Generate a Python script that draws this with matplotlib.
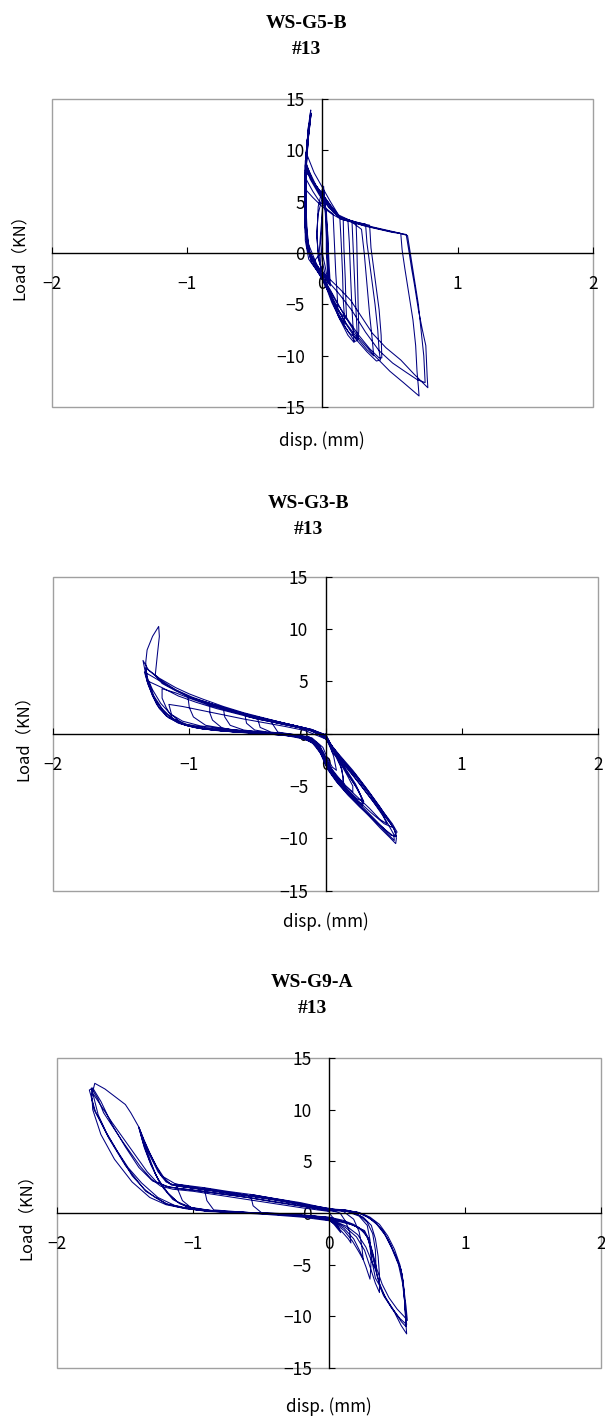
import matplotlib
matplotlib.use("Agg")
import matplotlib.pyplot as plt
from matplotlib.patches import Rectangle

# ---------------------------------------------------------------- data
# Cyclic load tests, recorded in sequence: (displacement mm, load kN).

G5B_POINTS = [
    (0.00, 0.0), (0.02, -1.2), (0.04, -2.6), (0.02, -2.0), (0.00, -0.8), (-0.01, 1.0),
    (0.00, 3.5), (0.01, 6.5), (0.02, 4.5), (0.03, 2.0), (0.04, -1.0), (0.05, -3.0),
    (0.03, -2.5), (0.01, -2.0), (-0.02, -1.0), (-0.04, 1.5), (-0.03, 4.5), (0.00, 6.2),
    (0.02, 4.8), (0.04, 2.0), (0.05, -1.0), (0.06, -3.2), (0.03, -2.6), (0.00, -1.8),
    (-0.03, -0.5), (-0.04, 2.0), (-0.03, 3.8), (0.00, 5.4), (0.03, 4.2), (0.04, 1.5),
    (0.045, -1.5), (0.05, -2.8), (0.02, -2.4), (-0.01, -1.6),
    (-0.02, 0.5), (0.00, 4.0), (0.01, 6.0), (0.03, 3.0), (0.03, 0.0), (0.04, -2.0),
    (0.035, -3.2), (0.01, -2.7),
    (-0.06, -0.5), (-0.10, 0.8), (-0.12, 3.0), (-0.125, 6.0), (-0.12, 8.5), (-0.115, 10.2),
    (-0.12, 8.8), (-0.08, 7.3), (-0.03, 6.0), (0.03, 4.8), (0.08, 4.0), (0.13, 3.4),
    (0.14, 1.0), (0.15, -2.0), (0.155, -4.5), (0.165, -6.5), (0.17, -6.9), (0.12, -6.0),
    (0.07, -4.5), (0.03, -3.2), (0.00, -2.3),
    (-0.05, -1.2), (-0.09, 0.0), (-0.11, 1.5), (-0.12, 4.5), (-0.12, 7.2), (-0.07, 6.0),
    (-0.02, 5.0), (0.04, 4.2), (0.08, 3.8), (0.09, 1.0), (0.10, -2.0), (0.11, -4.0),
    (0.115, -5.3), (0.08, -4.6), (0.04, -3.5), (0.01, -2.6),
    (-0.05, -1.0), (-0.10, 0.3), (-0.125, 2.5), (-0.13, 6.5), (-0.125, 9.0), (-0.09, 7.2),
    (-0.02, 5.6), (0.05, 4.4), (0.12, 3.5), (0.155, 3.2), (0.16, 0.5), (0.17, -2.5),
    (0.175, -5.0), (0.18, -6.4), (0.13, -5.8), (0.08, -4.6), (0.03, -3.0), (0.00, -2.2),
    (-0.05, -1.2), (-0.10, 0.2), (-0.125, 3.0), (-0.125, 7.5), (-0.11, 10.5), (-0.10, 12.2),
    (-0.115, 10.0), (-0.125, 8.2), (-0.06, 6.8), (0.02, 5.4), (0.08, 4.2), (0.13, 3.5),
    (0.22, 3.0), (0.225, 1.5), (0.235, -1.5), (0.245, -4.5), (0.255, -7.0), (0.26, -8.5),
    (0.24, -8.6), (0.17, -7.2), (0.10, -5.4), (0.05, -3.8), (0.01, -2.6),
    (-0.04, -1.5), (-0.09, -0.2), (-0.12, 2.0), (-0.13, 6.0), (-0.12, 9.5), (-0.10, 12.6),
    (-0.12, 9.5), (-0.12, 8.0), (-0.05, 6.5), (0.03, 5.1), (0.10, 3.9), (0.14, 3.4),
    (0.25, 2.9), (0.255, 1.0), (0.26, -2.0), (0.265, -5.0), (0.27, -7.5), (0.265, -8.4),
    (0.20, -7.8), (0.13, -6.4), (0.07, -4.8), (0.02, -3.0),
    (-0.03, -1.9), (-0.08, -0.9), (-0.115, 0.8), (-0.125, 4.0), (-0.125, 6.2), (-0.07, 5.4),
    (0.00, 4.5), (0.07, 3.8), (0.13, 3.35), (0.19, 3.1), (0.20, 1.0), (0.21, -2.5),
    (0.22, -5.5), (0.23, -7.8), (0.235, -8.7), (0.19, -8.0), (0.12, -6.2), (0.06, -4.2),
    (0.01, -2.8),
    (-0.04, -1.6), (-0.09, -0.4), (-0.12, 1.5), (-0.125, 6.0), (-0.11, 11.0), (-0.09, 13.0),
    (-0.11, 10.8), (-0.125, 8.4), (-0.07, 7.0), (0.00, 5.7), (0.07, 4.4), (0.13, 3.5),
    (0.25, 3.0), (0.32, 2.8), (0.33, 1.0), (0.36, -2.0), (0.39, -5.0), (0.41, -7.5),
    (0.42, -9.5), (0.43, -10.4), (0.40, -10.5), (0.33, -9.6), (0.25, -8.4), (0.17, -6.8),
    (0.10, -5.0), (0.04, -3.4), (0.00, -2.4),
    (-0.04, -1.4), (-0.09, -0.2), (-0.12, 1.8), (-0.125, 7.0), (-0.10, 11.8), (-0.085, 13.5),
    (-0.11, 11.0), (-0.125, 8.0), (-0.05, 6.6), (0.03, 5.2), (0.10, 4.0), (0.14, 3.4),
    (0.28, 2.9), (0.35, 2.7), (0.36, 0.5), (0.39, -2.5), (0.42, -5.5), (0.435, -8.0),
    (0.44, -10.2), (0.42, -10.2), (0.35, -9.3), (0.27, -8.0), (0.19, -6.5), (0.11, -4.9),
    (0.05, -3.5), (0.00, -2.5),
    (-0.04, -1.7), (-0.10, -0.6), (-0.125, 1.2), (-0.13, 5.5), (-0.12, 9.8), (-0.06, 7.8),
    (0.00, 6.4), (0.06, 5.0), (0.12, 3.7), (0.20, 3.2), (0.29, 2.3), (0.31, 0.0),
    (0.33, -3.0), (0.35, -6.0), (0.37, -8.5), (0.38, -10.0), (0.33, -9.4), (0.26, -8.3),
    (0.18, -6.9), (0.11, -5.4), (0.05, -3.9), (0.00, -2.6),
    (-0.04, -1.3), (-0.10, 0.0), (-0.125, 2.0), (-0.125, 7.5), (-0.10, 12.5), (-0.085, 13.9),
    (-0.10, 12.0), (-0.125, 8.5), (-0.06, 6.8), (0.02, 5.3), (0.08, 4.2), (0.13, 3.4),
    (0.30, 2.7), (0.50, 2.1), (0.62, 1.8), (0.64, 0.2), (0.66, -1.5), (0.68, -3.0),
    (0.71, -5.5), (0.74, -7.5), (0.765, -9.0), (0.77, -10.5), (0.775, -12.0), (0.78, -13.1),
    (0.68, -11.8), (0.58, -10.4), (0.47, -9.2), (0.37, -7.8), (0.28, -6.0), (0.21, -4.6),
    (0.13, -3.5), (0.06, -2.6), (0.01, -2.0),
    (-0.05, -1.0), (-0.11, 0.4), (-0.13, 3.0), (-0.125, 8.0), (-0.10, 11.5), (-0.09, 12.6),
    (-0.11, 10.5), (-0.12, 8.6), (-0.04, 6.4), (0.04, 4.9), (0.10, 3.8), (0.15, 3.3),
    (0.35, 2.6), (0.55, 2.0), (0.63, 1.7), (0.65, 0.0), (0.68, -2.5), (0.71, -5.0),
    (0.73, -7.5), (0.75, -10.0), (0.76, -12.6), (0.70, -12.3), (0.62, -11.6), (0.52, -10.7),
    (0.42, -9.5), (0.32, -7.7), (0.22, -5.6), (0.12, -3.9), (0.04, -2.7), (0.00, -2.1),
    (-0.04, -1.2), (-0.10, 0.2), (-0.12, 2.5), (-0.12, 8.0), (-0.095, 12.5), (-0.08, 13.6),
    (-0.11, 11.0), (-0.125, 8.3), (-0.05, 6.5), (0.03, 5.0), (0.09, 4.0), (0.14, 3.3),
    (0.32, 2.6), (0.52, 2.0), (0.58, 1.9), (0.59, 0.3), (0.61, -1.5), (0.64, -4.0),
    (0.67, -6.5), (0.69, -9.0), (0.70, -11.5), (0.71, -13.0), (0.715, -13.9), (0.60, -12.6),
    (0.50, -11.5), (0.38, -9.9), (0.26, -8.1), (0.16, -6.0), (0.06, -3.6), (0.01, -2.5),
    (-0.02, -1.8), (-0.06, -0.8), (-0.03, -0.3), (0.00, 0.0),
]

G3B_POINTS = [
    (0.00, 0.0), (0.03, -0.8), (0.07, -1.8), (0.11, -3.0), (0.13, -4.2), (0.125, -4.9),
    (0.09, -4.3), (0.05, -3.5), (0.01, -2.5), (-0.05, -1.0), (-0.12, -0.3), (-0.25, -0.05),
    (-0.35, 0.15), (-0.40, 1.15), (-0.33, 0.95), (-0.20, 0.6), (-0.10, 0.3), (0.00, -0.3),
    (0.03, -1.0), (0.06, -2.2), (0.08, -3.5), (0.05, -3.2), (0.02, -2.5), (-0.02, -1.3),
    (-0.10, -0.4), (-0.25, -0.05), (-0.40, 0.15), (-0.48, 0.6), (-0.50, 1.5), (-0.38, 1.15),
    (-0.25, 0.8), (-0.12, 0.4), (0.00, -0.2),
    (0.04, -1.2), (0.08, -2.3), (0.12, -3.4), (0.135, -4.9), (0.10, -4.5), (0.05, -3.6),
    (0.01, -2.6), (-0.04, -1.2), (-0.12, -0.4), (-0.25, -0.1), (-0.40, 0.1), (-0.52, 0.35),
    (-0.58, 1.0), (-0.59, 1.7), (-0.50, 1.4), (-0.38, 1.1), (-0.25, 0.75), (-0.12, 0.35),
    (0.00, -0.4),
    (0.05, -1.4), (0.10, -2.6), (0.16, -3.8), (0.22, -5.0), (0.26, -6.0), (0.27, -6.8),
    (0.22, -6.3), (0.16, -5.5), (0.10, -4.6), (0.04, -3.6), (0.00, -2.6), (-0.05, -1.3),
    (-0.12, -0.5), (-0.25, -0.15), (-0.45, 0.1), (-0.60, 0.35), (-0.70, 0.8), (-0.74, 1.6),
    (-0.75, 2.4), (-0.65, 2.0), (-0.50, 1.55), (-0.35, 1.1), (-0.20, 0.65), (-0.08, 0.2),
    (0.00, -0.5),
    (0.05, -1.4), (0.10, -2.6), (0.16, -4.0), (0.20, -5.0), (0.20, -5.6), (0.15, -5.0),
    (0.09, -4.1), (0.03, -3.1), (-0.02, -1.7), (-0.10, -0.6), (-0.25, -0.15), (-0.45, 0.05),
    (-0.62, 0.25), (-0.76, 0.55), (-0.83, 1.3), (-0.85, 2.0), (-0.85, 2.8), (-0.72, 2.3),
    (-0.58, 1.8), (-0.43, 1.35), (-0.28, 0.9), (-0.13, 0.45), (0.00, -0.3),
    (0.06, -1.6), (0.12, -2.9), (0.18, -4.2), (0.24, -5.4), (0.28, -6.5), (0.27, -6.9),
    (0.21, -6.2), (0.14, -5.3), (0.08, -4.4), (0.03, -3.5), (-0.01, -2.4), (-0.06, -1.2),
    (-0.15, -0.4), (-0.30, -0.05), (-0.50, 0.15), (-0.70, 0.4), (-0.88, 0.8), (-0.97, 1.6),
    (-1.00, 2.5), (-1.01, 3.5), (-0.90, 3.1), (-0.75, 2.5), (-0.60, 1.9), (-0.45, 1.4),
    (-0.30, 0.95), (-0.15, 0.5), (0.00, -0.3),
    (0.06, -1.5), (0.14, -3.2), (0.22, -4.8), (0.28, -6.5), (0.23, -6.2), (0.15, -5.2),
    (0.08, -4.2), (0.02, -3.0), (-0.04, -1.4), (-0.12, -0.5), (-0.30, -0.1), (-0.50, 0.05),
    (-0.70, 0.25), (-0.90, 0.5), (-1.05, 0.95), (-1.13, 1.8), (-1.15, 2.8), (-1.05, 2.6),
    (-0.90, 2.2), (-0.75, 1.8), (-0.60, 1.4), (-0.45, 1.05), (-0.30, 0.7), (-0.15, 0.3),
    (0.00, -0.5),
    (0.06, -1.4), (0.14, -2.8), (0.24, -4.4), (0.34, -6.1), (0.41, -7.5), (0.45, -8.6),
    (0.40, -8.2), (0.32, -7.1), (0.23, -6.0), (0.14, -4.9), (0.06, -3.8), (0.01, -2.8),
    (-0.04, -1.5), (-0.12, -0.6), (-0.30, -0.15), (-0.50, 0.05), (-0.70, 0.2), (-0.90, 0.45),
    (-1.03, 0.8), (-1.12, 1.4), (-1.17, 2.5), (-1.20, 3.4), (-1.20, 4.3), (-1.10, 3.9),
    (-0.98, 3.3), (-0.85, 2.7), (-0.70, 2.15), (-0.55, 1.65), (-0.40, 1.2), (-0.25, 0.8),
    (-0.10, 0.3), (0.00, -0.3),
    (0.05, -1.2), (0.10, -2.0), (0.20, -3.5), (0.30, -5.2), (0.40, -7.0), (0.47, -8.4),
    (0.51, -9.3), (0.52, -10.0), (0.515, -10.5), (0.47, -9.9), (0.40, -9.0), (0.30, -7.6),
    (0.20, -6.2), (0.12, -5.1), (0.05, -4.0), (0.00, -3.0), (-0.05, -1.5), (-0.12, -0.6),
    (-0.25, -0.2), (-0.45, 0.0), (-0.65, 0.15), (-0.85, 0.4), (-1.00, 0.7), (-1.10, 1.2),
    (-1.18, 2.0), (-1.25, 3.2), (-1.30, 4.6), (-1.33, 5.9), (-1.25, 5.3), (-1.12, 4.3),
    (-1.00, 3.5), (-0.85, 2.8), (-0.70, 2.2), (-0.55, 1.7), (-0.40, 1.25), (-0.25, 0.85),
    (-0.10, 0.4), (0.00, -0.2),
    (0.08, -1.9), (0.18, -3.6), (0.28, -5.3), (0.38, -7.0), (0.46, -8.3), (0.50, -9.0),
    (0.43, -8.6), (0.33, -7.5), (0.23, -6.3), (0.13, -5.0), (0.05, -3.7), (0.00, -2.5),
    (-0.06, -1.1), (-0.15, -0.35), (-0.35, 0.0), (-0.60, 0.2), (-0.85, 0.5), (-1.02, 0.9),
    (-1.13, 1.5), (-1.20, 2.4), (-1.26, 3.6), (-1.30, 5.0), (-1.20, 4.4), (-1.08, 3.6),
    (-0.95, 3.0), (-0.80, 2.4), (-0.65, 1.9), (-0.50, 1.4), (-0.35, 1.0), (-0.20, 0.6),
    (-0.05, 0.1), (0.00, -0.4),
    (0.07, -1.6), (0.15, -2.9), (0.25, -4.5), (0.35, -6.2), (0.44, -7.9), (0.50, -9.0),
    (0.52, -9.8), (0.48, -9.7), (0.40, -8.7), (0.31, -7.5), (0.22, -6.3), (0.14, -5.2),
    (0.07, -4.2), (0.02, -3.2), (-0.02, -1.8), (-0.08, -0.8), (-0.18, -0.25), (-0.35, 0.05),
    (-0.55, 0.25), (-0.75, 0.45), (-0.92, 0.75), (-1.05, 1.2), (-1.14, 1.9), (-1.21, 2.9),
    (-1.27, 4.2), (-1.31, 5.4), (-1.32, 6.3), (-1.22, 5.2), (-1.10, 4.2), (-0.98, 3.5),
    (-0.85, 2.9), (-0.70, 2.3), (-0.55, 1.75), (-0.40, 1.3), (-0.25, 0.85), (-0.10, 0.4),
    (0.00, -0.1),
    (0.06, -1.5), (0.12, -2.5), (0.22, -3.9), (0.32, -5.6), (0.42, -7.4), (0.49, -8.6),
    (0.525, -9.4), (0.50, -9.8), (0.44, -9.2), (0.35, -8.2), (0.25, -7.0), (0.16, -5.8),
    (0.08, -4.6), (0.02, -3.5), (-0.03, -2.0), (-0.10, -0.8), (-0.20, -0.3), (-0.40, -0.05),
    (-0.60, 0.1), (-0.80, 0.3), (-0.95, 0.55), (-1.08, 1.0), (-1.17, 1.7), (-1.24, 2.8),
    (-1.28, 4.0), (-1.31, 5.3), (-1.32, 6.8), (-1.31, 8.0), (-1.27, 9.3), (-1.225, 10.25),
    (-1.22, 9.3), (-1.235, 7.5), (-1.25, 5.6), (-1.20, 4.8), (-1.10, 4.1), (-1.00, 3.5),
    (-0.85, 2.9), (-0.70, 2.3), (-0.55, 1.75), (-0.40, 1.3), (-0.25, 0.85), (-0.10, 0.35),
    (0.00, -0.3),
    (0.05, -1.8), (0.15, -3.2), (0.25, -4.8), (0.35, -6.5), (0.44, -8.2), (0.50, -9.6),
    (0.505, -10.2), (0.45, -9.5), (0.36, -8.3), (0.26, -7.0), (0.17, -5.9), (0.09, -4.7),
    (0.03, -3.6), (-0.02, -2.2), (-0.08, -1.0), (-0.18, -0.35), (-0.35, -0.05), (-0.55, 0.1),
    (-0.75, 0.25), (-0.92, 0.5), (-1.05, 0.9), (-1.15, 1.5), (-1.22, 2.4), (-1.27, 3.6),
    (-1.31, 5.0), (-1.34, 7.0), (-1.30, 6.1), (-1.22, 5.3), (-1.10, 4.4), (-1.00, 3.8),
    (-0.90, 3.3), (-0.75, 2.6), (-0.60, 2.0), (-0.45, 1.5), (-0.30, 1.0), (-0.15, 0.55),
    (0.00, -0.1),
]

G9A_POINTS = [
    (0.00, 0.0), (0.03, -0.5), (0.06, -1.2), (0.085, -1.9), (0.06, -1.5), (0.03, -1.0),
    (0.00, -0.6), (-0.10, -0.3), (-0.30, -0.1), (-0.50, 0.05), (-0.56, 0.7), (-0.58, 1.8),
    (-0.45, 1.5), (-0.30, 1.15), (-0.15, 0.7), (0.00, 0.3),
    (0.08, 0.0), (0.12, -0.8), (0.15, -1.8), (0.16, -2.9), (0.14, -2.5), (0.10, -1.9),
    (0.05, -1.2), (0.00, -0.7), (-0.15, -0.35), (-0.40, -0.1), (-0.65, 0.1), (-0.85, 0.3),
    (-0.90, 1.2), (-0.92, 2.4), (-0.80, 2.1), (-0.60, 1.7), (-0.40, 1.3), (-0.20, 0.85),
    (0.00, 0.45),
    (0.10, 0.2), (0.18, -0.6), (0.22, -1.8), (0.24, -3.2), (0.25, -4.5), (0.22, -3.8),
    (0.17, -2.7), (0.11, -1.7), (0.05, -1.1), (0.00, -0.75), (-0.20, -0.4), (-0.50, -0.1),
    (-0.80, 0.1), (-1.00, 0.35), (-1.08, 1.2), (-1.13, 2.8), (-1.00, 2.5), (-0.80, 2.05),
    (-0.60, 1.65), (-0.40, 1.25), (-0.20, 0.8), (0.00, 0.35),
    (0.12, 0.2), (0.22, -0.3), (0.28, -1.2), (0.30, -2.6), (0.31, -4.2), (0.305, -5.5),
    (0.30, -6.4), (0.27, -5.2), (0.23, -3.8), (0.18, -2.5), (0.11, -1.5), (0.04, -0.9),
    (0.00, -0.6), (-0.20, -0.3), (-0.50, -0.05), (-0.80, 0.15), (-1.00, 0.45), (-1.10, 0.9),
    (-1.18, 1.8), (-1.25, 3.0), (-1.31, 4.6), (-1.36, 6.3), (-1.40, 8.3), (-1.37, 7.2),
    (-1.32, 5.6), (-1.26, 4.0), (-1.20, 3.0), (-1.12, 2.6), (-0.95, 2.3), (-0.75, 1.9),
    (-0.55, 1.6), (-0.35, 1.2), (-0.15, 0.7), (0.00, 0.3),
    (0.12, 0.25), (0.22, -0.2), (0.28, -0.9), (0.32, -2.0), (0.34, -3.6), (0.345, -5.6),
    (0.31, -4.6), (0.27, -3.3), (0.21, -2.1), (0.13, -1.3), (0.05, -0.85), (0.00, -0.55),
    (-0.30, -0.2), (-0.60, 0.05), (-0.90, 0.25), (-1.05, 0.6), (-1.15, 1.3), (-1.22, 2.4),
    (-1.28, 3.8), (-1.33, 5.6), (-1.38, 7.5), (-1.35, 6.5), (-1.29, 4.9), (-1.23, 3.5),
    (-1.16, 2.7), (-1.00, 2.4), (-0.85, 2.15), (-0.65, 1.8), (-0.45, 1.4), (-0.25, 0.95),
    (-0.05, 0.45), (0.00, 0.3),
    (0.15, 0.15), (0.25, -0.4), (0.31, -1.2), (0.34, -2.5), (0.36, -4.2), (0.37, -6.0),
    (0.37, -7.7), (0.34, -6.8), (0.30, -5.2), (0.26, -3.6), (0.20, -2.3), (0.12, -1.4),
    (0.05, -0.9), (0.00, -0.6), (-0.25, -0.25), (-0.55, 0.0), (-0.85, 0.2), (-1.02, 0.55),
    (-1.12, 1.1), (-1.19, 2.0), (-1.26, 3.3), (-1.32, 5.0), (-1.37, 6.8), (-1.40, 8.2),
    (-1.36, 6.9), (-1.30, 5.2), (-1.24, 3.7), (-1.17, 2.8), (-1.05, 2.5), (-0.90, 2.25),
    (-0.70, 1.9), (-0.50, 1.5), (-0.30, 1.1), (-0.10, 0.6), (0.00, 0.35),
    (0.10, 0.25), (0.21, 0.05), (0.27, -0.3), (0.33, -0.8), (0.38, -1.5), (0.43, -2.5),
    (0.48, -3.9), (0.53, -5.5), (0.55, -7.4), (0.565, -9.0), (0.575, -10.4), (0.55, -10.0),
    (0.50, -9.3), (0.44, -8.2), (0.39, -6.9), (0.35, -5.4), (0.32, -3.8), (0.29, -2.5),
    (0.25, -1.7), (0.18, -1.1), (0.10, -0.7), (0.00, -0.4), (-0.30, -0.1), (-0.60, 0.05),
    (-0.90, 0.2), (-1.05, 0.45), (-1.20, 0.9), (-1.35, 2.1), (-1.50, 4.6), (-1.62, 7.2),
    (-1.72, 9.8), (-1.765, 11.9), (-1.74, 12.1), (-1.68, 10.8), (-1.60, 8.6), (-1.50, 6.4),
    (-1.40, 4.4), (-1.30, 3.1), (-1.20, 2.6), (-1.10, 2.35), (-0.95, 2.15), (-0.80, 1.85),
    (-0.60, 1.5), (-0.40, 1.05), (-0.20, 0.65), (0.00, 0.25),
    (0.10, 0.3), (0.20, 0.1), (0.27, -0.25), (0.34, -0.9), (0.40, -1.8), (0.45, -3.0),
    (0.50, -4.5), (0.535, -5.9), (0.55, -7.6), (0.56, -9.5), (0.565, -10.8), (0.57, -11.7),
    (0.53, -10.9), (0.48, -9.6), (0.43, -8.6), (0.40, -8.0), (0.37, -7.0), (0.34, -6.3),
    (0.32, -5.0), (0.31, -4.2), (0.29, -2.5), (0.26, -1.7), (0.16, -1.1), (0.06, -0.8),
    (0.00, -0.5), (-0.30, -0.2), (-0.60, 0.0), (-0.90, 0.15), (-1.00, 0.35), (-1.10, 0.55),
    (-1.19, 0.84), (-1.28, 1.5), (-1.36, 2.3), (-1.45, 3.6), (-1.51, 4.9), (-1.57, 6.2),
    (-1.63, 7.5), (-1.68, 8.8), (-1.73, 10.0), (-1.75, 11.2), (-1.725, 12.55), (-1.65, 12.0),
    (-1.58, 11.3), (-1.50, 10.5), (-1.46, 9.7), (-1.43, 9.0), (-1.40, 8.3), (-1.36, 7.0),
    (-1.32, 5.8), (-1.27, 4.5), (-1.22, 3.5), (-1.13, 2.8), (-0.92, 2.45), (-0.75, 2.1),
    (-0.58, 1.8), (-0.40, 1.4), (-0.21, 1.0), (0.00, 0.4),
    (0.12, 0.3), (0.22, 0.0), (0.29, -0.45), (0.35, -1.1), (0.41, -2.1), (0.46, -3.4),
    (0.51, -5.0), (0.54, -6.8), (0.555, -8.6), (0.565, -10.0), (0.57, -10.8), (0.52, -10.2),
    (0.46, -9.2), (0.41, -8.1), (0.37, -6.8), (0.34, -5.3), (0.31, -3.6), (0.28, -2.3),
    (0.22, -1.4), (0.12, -0.9), (0.03, -0.6), (0.00, -0.45), (-0.30, -0.15), (-0.60, 0.02),
    (-0.90, 0.22), (-1.02, 0.4), (-1.14, 0.75), (-1.26, 1.5), (-1.38, 2.9), (-1.48, 4.4),
    (-1.56, 6.0), (-1.64, 7.8), (-1.70, 9.5), (-1.74, 11.6), (-1.71, 11.0), (-1.66, 10.0),
    (-1.60, 8.8), (-1.53, 7.5), (-1.47, 6.4), (-1.41, 5.3), (-1.34, 4.0), (-1.27, 3.0),
    (-1.18, 2.5), (-1.05, 2.3), (-0.88, 2.0), (-0.70, 1.7), (-0.50, 1.3), (-0.30, 0.9),
    (-0.10, 0.45), (0.00, 0.2),
    (0.12, 0.22), (0.22, 0.05), (0.30, -0.4), (0.37, -1.1), (0.43, -2.2), (0.48, -3.5),
    (0.52, -5.0), (0.545, -6.6), (0.555, -8.5), (0.565, -11.0), (0.53, -10.5), (0.47, -9.3),
    (0.42, -8.3), (0.38, -7.3), (0.35, -6.0), (0.33, -4.6), (0.30, -2.9), (0.26, -1.9),
    (0.20, -1.3), (0.12, -0.9), (0.04, -0.6), (0.00, -0.45), (-0.30, -0.15), (-0.60, 0.02),
    (-0.90, 0.2), (-1.05, 0.4), (-1.20, 0.8), (-1.32, 1.5), (-1.45, 3.0), (-1.58, 5.2),
    (-1.68, 7.6), (-1.74, 10.0), (-1.75, 12.1), (-1.70, 11.0), (-1.66, 9.7), (-1.59, 8.3),
    (-1.53, 7.1), (-1.46, 5.8), (-1.39, 4.5), (-1.31, 3.3), (-1.24, 2.6), (-1.15, 2.3),
    (-1.00, 2.1), (-0.80, 1.7), (-0.60, 1.3), (-0.40, 0.9), (-0.20, 0.5), (0.00, 0.15),
]

TITLES = ["WS-G5-B", "WS-G3-B", "WS-G9-A"]
SUBTITLE = "#13"
X_TICKS = [-2, -1, 0, 1, 2]
X_TICK_LABELS = ["\u22122", "\u22121", "0", "1", "2"]
Y_TICKS = [-15, -10, -5, 0, 5, 10, 15]
Y_TICK_LABELS = ["\u221215", "\u221210", "\u22125", "0", "5", "10", "15"]
X_LABEL = "disp. (mm)"
Y_LABEL = "Load\uff08KN\uff09"

# ---------------------------------------------------------------- layout
W, H = 605, 1419
fig = plt.figure(figsize=(W / 100, H / 100), dpi=100)
fig.patch.set_facecolor("white")

LINE_COLOR = "#000080"
SANS = ["Noto Sans CJK JP", "DejaVu Sans"]

# pixel boxes of each plot area: left, top, right, bottom
boxes = [
    (51.5, 98.7, 593.0, 407.3),
    (53.1, 576.7, 598.0, 890.7),
    (57.4, 1058.0, 601.0, 1368.0),
]
title_pos = [(306, 23.3, 49.0), (308.7, 503.3, 529.0), (312.0, 982.7, 1008.3)]
ylabel_x = [19.4, 23.3, 26.0]
xlabel_y = [440.7, 921.7, 1406.7]

series = [G5B_POINTS, G3B_POINTS, G9A_POINTS]

for i, ((l, t, r, b), pts) in enumerate(zip(boxes, series)):
    disp = [p[0] for p in pts]
    load = [p[1] for p in pts]

    ax = fig.add_axes([l / W, 1 - b / H, (r - l) / W, (b - t) / H])
    ax.set_xlim(-2, 2)
    ax.set_ylim(-15, 15)
    ax.set_facecolor("white")

    ax.plot(disp, load, color=LINE_COLOR, lw=0.75)

    # axes crossing at the origin
    for side in ("top", "right"):
        ax.spines[side].set_visible(False)
    ax.spines["left"].set_position(("data", 0))
    ax.spines["bottom"].set_position(("data", 0))
    for side in ("left", "bottom"):
        ax.spines[side].set_color("black")
        ax.spines[side].set_linewidth(1.0)
        ax.spines[side].set_zorder(3)

    # grey frame around the plot area
    ax.add_patch(Rectangle((0, 0), 1, 1, transform=ax.transAxes, fill=False,
                           edgecolor="#a0a0a0", lw=1.0, clip_on=False, zorder=1))

    ax.set_xticks(X_TICKS)
    ax.set_xticklabels(X_TICK_LABELS)
    ax.set_yticks(Y_TICKS)
    ax.set_yticklabels(Y_TICK_LABELS)
    ax.tick_params(axis="both", direction="in", length=4, width=0.8,
                   color="black", labelsize=12.5)
    ax.tick_params(axis="x", pad=16)
    ax.tick_params(axis="y", pad=12.5)
    for lab in ax.get_xticklabels() + ax.get_yticklabels():
        lab.set_family(SANS)

    tx, ty1, ty2 = title_pos[i]
    fig.text(tx / W, 1 - ty1 / H, TITLES[i], ha="center", va="center",
             fontsize=14, fontweight="bold", family="Liberation Serif")
    fig.text(tx / W, 1 - ty2 / H, SUBTITLE, ha="center", va="center",
             fontsize=14, fontweight="bold", family="Liberation Serif")

    fig.text(ylabel_x[i] / W, 1 - ((t + b) / 2) / H, Y_LABEL, rotation=90,
             ha="center", va="center", fontsize=11.9, family=SANS)
    fig.text((l + r) / 2 / W, 1 - xlabel_y[i] / H, X_LABEL, ha="center",
             va="center", fontsize=12.3, family=SANS)

fig.savefig("out.png", dpi=100, facecolor="white")
